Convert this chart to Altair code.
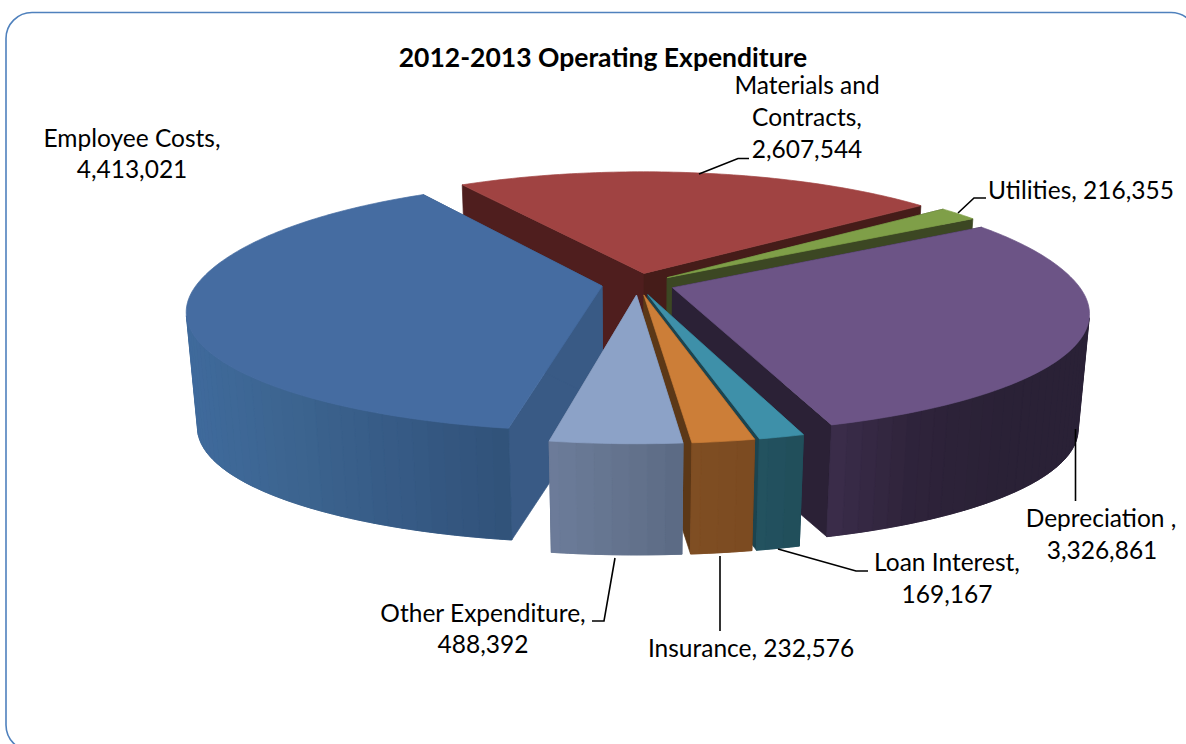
import math
import altair as alt

# Operating expenditure, clockwise from the near edge of the pie
NAMES = ["Employee Costs", "Materials and Contracts", "Utilities", "Depreciation",
         "Loan Interest", "Insurance", "Other Expenditure"]
VALUES = [4413021, 2607544, 216355, 3326861, 169167, 232576, 488392]

# Shading per slice: top face, the two cut faces, side-wall stops left to right
TOP = ["#456CA1", "#A04342", "#7F9F48", "#6C5486", "#3E90A9", "#CC7E38", "#8CA2C7"]
CUT_START = ["#395A85", "#4F1E1E", "#3C4723", "#2B2136", "#1C444F", "#5C3817", "#5F6E8A"]
CUT_END = ["#395A85", "#451C19", "#3C4723", "#2B2136", "#1C444F", "#5C3817", "#5F6E8A"]
WALL = [["#3F6A9C", "#3C648F", "#365A85", "#315279"],
        ["#4F1E1E", "#4F1E1E"],
        ["#3C4723", "#3C4723"],
        ["#3B2D4A", "#2E233A", "#2A2136", "#2A2136"],
        ["#235260", "#214E5A"],
        ["#7F4E23", "#7C4B21"],
        ["#6C7C9A", "#65748F", "#5B6A84"]]

# Painter's order, back to front
DRAW_ORDER = [1, 2, 3, 0, 4, 5, 6]

# Pie geometry
FIRST_ANGLE = 190.0
EXPLODE = 0.09
CX, CY = 638.0, 284.0
RX, RY = 405.0, 121.0
DEPTH = 116.0
BASE_SCALE = 0.975


def project(x, y, base=False):
    """Perspective view of a point on the unit pie, top or base plane."""
    curve = 0.02 if y < 0 else -0.03
    sx = CX + RX * x / (1 + 0.2 * y + curve * y * y)
    sy = CY - RY * y / (1 + 0.16 * y)
    if base:
        sx = CX + (sx - CX) * BASE_SCALE
        sy = CY + (sy - CY) * 0.97 + DEPTH
    return [round(sx, 2), round(sy, 2)]


def hex_mix(stops, t):
    t = max(0.0, min(1.0, t)) * (len(stops) - 1)
    i = min(int(t), len(stops) - 2)
    f = t - i
    a = [int(stops[i][k:k + 2], 16) for k in (1, 3, 5)]
    b = [int(stops[i + 1][k:k + 2], 16) for k in (1, 3, 5)]
    return "#" + "".join(f"{round(p + (q - p) * f):02x}" for p, q in zip(a, b))


def face(ring, fill):
    return {"type": "Feature",
            "geometry": {"type": "Polygon", "coordinates": [ring + [ring[0]]]},
            "properties": {"fill": fill}}


def winding(ring):
    return sum(p[0] * q[1] - q[0] * p[1] for p, q in zip(ring, ring[1:] + ring[:1]))


total = sum(VALUES)
spans = []
start = FIRST_ANGLE
for v in VALUES:
    end = start + 360.0 * v / total
    spans.append((start, end))
    start = end

faces = []
for i in DRAW_ORDER:
    a0, a1 = spans[i]
    mid = math.radians((a0 + a1) / 2)
    ox, oy = EXPLODE * math.sin(mid), EXPLODE * math.cos(mid)
    steps = max(2, int(a1 - a0))
    angles = [math.radians(a0 + (a1 - a0) * k / steps) for k in range(steps + 1)]
    rim = [(ox + math.sin(a), oy + math.cos(a)) for a in angles]
    top_rim = [project(x, y) for x, y in rim]
    base_rim = [project(x, y, True) for x, y in rim]
    hub_top, hub_base = project(ox, oy), project(ox, oy, True)

    # Cut faces first, then the viewer-facing part of the wall, then the top
    faces.append(face([hub_top, top_rim[0], base_rim[0], hub_base], CUT_START[i]))
    faces.append(face([hub_top, top_rim[-1], base_rim[-1], hub_base], CUT_END[i]))
    xs = [p[0] for p in top_rim]
    front = [k for k in range(steps)
             if winding([top_rim[k], top_rim[k + 1], base_rim[k + 1], base_rim[k]]) < 0]
    if front:
        # A single wall shape beneath the shaded strips keeps their joins closed
        idx = list(range(front[0], front[-1] + 2))
        outline = [top_rim[k] for k in idx] + [base_rim[k] for k in reversed(idx)]
        faces.append(face(outline, hex_mix(WALL[i], 0.5)))
        for n in range(0, len(front), 2):
            first, last = front[n], min(front[n] + 2, front[-1] + 1)
            band = range(first, last + 1)
            quad = [top_rim[k] for k in band] + [base_rim[k] for k in reversed(band)]
            t = ((top_rim[first][0] + top_rim[last][0]) / 2 - min(xs)) / max(1.0, max(xs) - min(xs))
            faces.append(face(quad, hex_mix(WALL[i], t)))
    faces.append(face([hub_top] + top_rim, TOP[i]))

amounts = dict(zip(NAMES, (f"{v:,}" for v in VALUES)))

# Label text lines with their centres on the canvas
label_rows = [
    ("Employee Costs,", 132, 140), (amounts["Employee Costs"], 132, 171),
    ("Materials and", 807, 87), ("Contracts,", 807, 119),
    (amounts["Materials and Contracts"], 807, 151),
    ("Utilities, " + amounts["Utilities"], 1081, 192),
    ("Depreciation ,", 1101, 520), (amounts["Depreciation"], 1102, 552),
    ("Loan Interest,", 947, 564), (amounts["Loan Interest"], 947, 596),
    ("Insurance, " + amounts["Insurance"], 751, 650),
    ("Other Expenditure,", 483, 615), (amounts["Other Expenditure"], 483, 646),
]

# Leader lines from the labels to their slices
leaders = [
    [(699, 174), (738, 158.5), (749, 158.5)],
    [(958, 213), (974, 198), (986, 198)],
    [(1075.5, 429), (1075.5, 501)],
    [(778, 549), (856, 571), (868, 571)],
    [(720, 556), (720, 631)],
    [(615, 558), (604, 621), (592, 621)],
]

X = alt.X("x:Q", scale=alt.Scale(domain=[0, 1186], range=[0, 1186]), axis=None)
Y = alt.Y("y:Q", scale=alt.Scale(domain=[0, 744], range=[0, 744]), axis=None)

frame = alt.Chart(alt.Data(values=[{"k": 1}])).mark_rect(
    cornerRadius=26, fillOpacity=0, stroke="#4F81BD", strokeWidth=1.6
).encode(x=alt.value(6), x2=alt.value(1197), y=alt.value(12.5), y2=alt.value(751))

pie = alt.Chart(alt.Data(values=faces)).mark_geoshape(
    strokeWidth=0.7, opacity=1, fillOpacity=1, strokeOpacity=1, strokeJoin="round"
).encode(
    fill=alt.Fill("properties.fill:N", scale=None, legend=None),
    stroke=alt.Stroke("properties.fill:N", scale=None, legend=None),
).project(type="identity", scale=1, translate=[0, 0])

leader_rows = [{"x": x, "y": y, "line": n, "seq": s}
               for n, pts in enumerate(leaders) for s, (x, y) in enumerate(pts)]
leader_lines = alt.Chart(alt.Data(values=leader_rows)).mark_line(
    color="#000000", strokeWidth=1.6
).encode(x=X, y=Y, detail="line:N", order="seq:Q")

labels = alt.Chart(alt.Data(values=[{"t": t, "x": x, "y": y} for t, x, y in label_rows])).mark_text(
    font="Lato", fontSize=24.5, color="#000000", align="center", baseline="middle"
).encode(x=X, y=Y, text="t:N")

title = alt.Chart(alt.Data(values=[{"t": "2012-2013 Operating Expenditure", "x": 603, "y": 59}])).mark_text(
    font="Lato", fontSize=26.5, fontWeight="bold", color="#000000", align="center", baseline="middle"
).encode(x=X, y=Y, text="t:N")

chart = alt.layer(frame, pie, leader_lines, labels, title).properties(
    width=1186, height=744, padding=0, autosize=alt.AutoSizeParams(type="none"),
    background="#FFFFFF"
).configure_view(stroke=None)

chart.save("out.html", embed_options={"renderer": "svg", "actions": False})
